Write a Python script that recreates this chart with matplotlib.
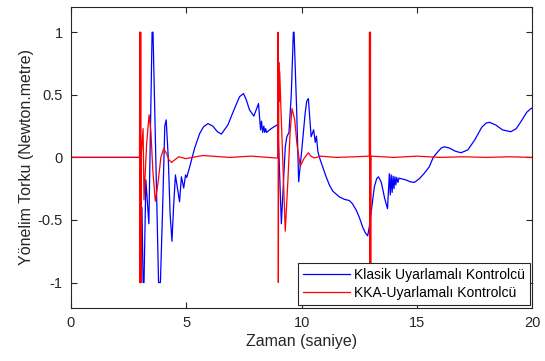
import matplotlib
matplotlib.use("Agg")
import matplotlib.pyplot as plt

# values (time in s, torque in N.m)
blue_t = [0.0, 2.99, 3.01, 3.08, 3.13, 3.17, 3.25, 3.38, 3.52, 3.56, 3.80, 3.88,
          3.97, 4.07, 4.13, 4.22, 4.30, 4.38, 4.45, 4.53, 4.71, 4.79, 4.89, 4.97,
          5.02, 5.15, 5.36, 5.58, 5.75, 5.94, 6.15, 6.35, 6.52, 6.80, 7.09, 7.31,
          7.48, 7.60, 7.74, 7.93, 8.03, 8.13, 8.22, 8.26, 8.31, 8.36, 8.40, 8.44,
          8.48, 8.68, 8.94, 8.97,
          9.12, 9.29, 9.36, 9.45, 9.55, 9.64, 9.67, 9.78, 9.87, 10.00, 10.15,
          10.22, 10.29, 10.41, 10.52, 10.59, 10.64, 10.70, 10.77, 10.90, 11.06,
          11.20, 11.35, 11.63, 11.85, 12.07, 12.20, 12.36, 12.50, 12.64, 12.75,
          12.86, 12.93, 13.05, 13.15, 13.25, 13.33, 13.45, 13.60, 13.72, 13.80,
          13.84, 13.88, 13.92, 13.96, 14.00, 14.04, 14.08, 14.12, 14.17, 14.22,
          14.30, 14.52, 14.70, 14.88, 15.10, 15.30, 15.53, 15.70, 15.90, 16.05,
          16.18, 16.40, 16.65, 16.90, 17.20, 17.50, 17.80, 18.00, 18.14, 18.40,
          18.70, 19.06, 19.30, 19.55, 19.75, 19.93, 20.0]
blue_v = [0.0, 0.0, -1.0, -0.4, -1.0, -1.0, -0.18, -0.53, 1.0, 1.0, -1.0, -1.0,
          -0.45, 0.25, 0.3, 0.0, -0.45, -0.67, -0.4, -0.14, -0.355, -0.155, -0.245,
          -0.14, -0.16, -0.075, 0.072, 0.19, 0.245, 0.27, 0.25, 0.205, 0.186,
          0.258, 0.39, 0.485, 0.51, 0.46, 0.38, 0.33, 0.38, 0.43, 0.22, 0.29, 0.2,
          0.25, 0.2, 0.23, 0.2, 0.23, 0.26, 0.27,
          -0.53, 0.085, 0.165, 0.2, 0.5, 1.0, 1.0, 0.4, -0.195, 0.05, 0.35, 0.45,
          0.47, 0.165, 0.22, 0.12, 0.17, 0.05, 0.0, -0.07, -0.155, -0.22, -0.27,
          -0.315, -0.335, -0.345, -0.37, -0.42, -0.48, -0.555, -0.6, -0.627,
          -0.555, -0.38, -0.235, -0.17, -0.155, -0.2, -0.33, -0.41, -0.13, -0.30,
          -0.14, -0.28, -0.15, -0.25, -0.155, -0.22, -0.16, -0.20, -0.165, -0.17,
          -0.18, -0.195, -0.2, -0.17, -0.13, -0.075, 0.0, 0.045, 0.075, 0.085,
          0.075, 0.05, 0.037, 0.06, 0.14, 0.24, 0.275, 0.28, 0.26, 0.22, 0.205,
          0.23, 0.3, 0.36, 0.39, 0.395]

red_t = [0.0, 2.975, 2.985, 2.995, 3.005, 3.015, 3.025, 3.035, 3.045, 3.13, 3.17,
         3.28, 3.39, 3.47, 3.55, 3.66, 3.78, 3.90, 4.02, 4.15, 4.25, 4.36, 4.50,
         4.67, 4.97, 5.71, 6.88, 7.82, 8.90, 8.97, 8.98, 8.99, 9.01, 9.03, 9.05,
         9.10, 9.29, 9.40, 9.50, 9.58, 9.70, 9.80, 9.94, 10.10, 10.29, 10.40,
         10.55, 10.81, 11.5, 12.3, 12.93, 12.94, 12.95, 12.96, 12.97, 12.98,
         12.99, 13.0, 14.0, 15.0, 16.0, 17.0, 18.0, 19.0, 20.0]
red_v = [0.0, 0.0, 1.0, -1.0, 1.0, -1.0, 1.0, -1.0, 0.0, 0.23, -0.34, 0.1, 0.34,
         0.2, -0.1, -0.35, -0.2, 0.0, 0.07, 0.03, -0.02, -0.04, -0.02, 0.005,
         -0.01, 0.015, 0.0, 0.01, -0.005, 0.0, 1.0, -1.0, 0.76, 0.45, 0.685, 0.4,
         -0.59, -0.2, 0.2, 0.39, 0.3, 0.1, -0.07, -0.01, 0.037, 0.01, -0.005,
         0.01, 0.0, 0.005, 0.01, 1.0, -1.0, 1.0, -1.0, 1.0, -1.0, 0.01, 0.0, 0.01,
         0.0, 0.005, 0.0, 0.005, 0.0]

x_ticks = [0, 5, 10, 15, 20]
y_ticks = [-1, -0.5, 0, 0.5, 1]
y_tick_labels = ["-1", "-0.5", "0", "0.5", "1"]

plt.rcParams["font.family"] = ["Liberation Sans", "DejaVu Sans"]

fig = plt.figure(figsize=(5.45, 3.61), dpi=100)
ax = fig.add_axes([0.130, 0.148, 0.847, 0.832])

ax.plot(blue_t, blue_v, color=(0, 0, 1), linewidth=0.9, label="Klasik Uyarlamalı Kontrolcü")
ax.plot(red_t, red_v, color=(1, 0, 0), linewidth=0.9, label="KKA-Uyarlamalı Kontrolcü")

ax.set_xlim(0, 20)
ax.set_ylim(-1.2, 1.2)
ax.set_xticks(x_ticks)
ax.set_yticks(y_ticks)
ax.set_yticklabels(y_tick_labels)

edge = "#262626"
for spine in ax.spines.values():
    spine.set_color(edge)
    spine.set_linewidth(0.8)
ax.tick_params(direction="in", length=4, width=0.8, colors=edge, labelsize=10.5,
               top=True, right=True, pad=6)

ax.set_xlabel("Zaman (saniye)", fontsize=11.5, color=edge, labelpad=3)
ax.set_ylabel("Yönelim Torku (Newton.metre)", fontsize=11.5, color=edge, labelpad=2)

leg = ax.legend(loc="lower right", fontsize=10, handlelength=3.4, fancybox=False,
                framealpha=1, borderaxespad=0.2, borderpad=0.35, labelspacing=0.3,
                handletextpad=0.3)
leg.get_frame().set_edgecolor(edge)
leg.get_frame().set_linewidth(0.8)

fig.savefig("out.png", dpi=100)
